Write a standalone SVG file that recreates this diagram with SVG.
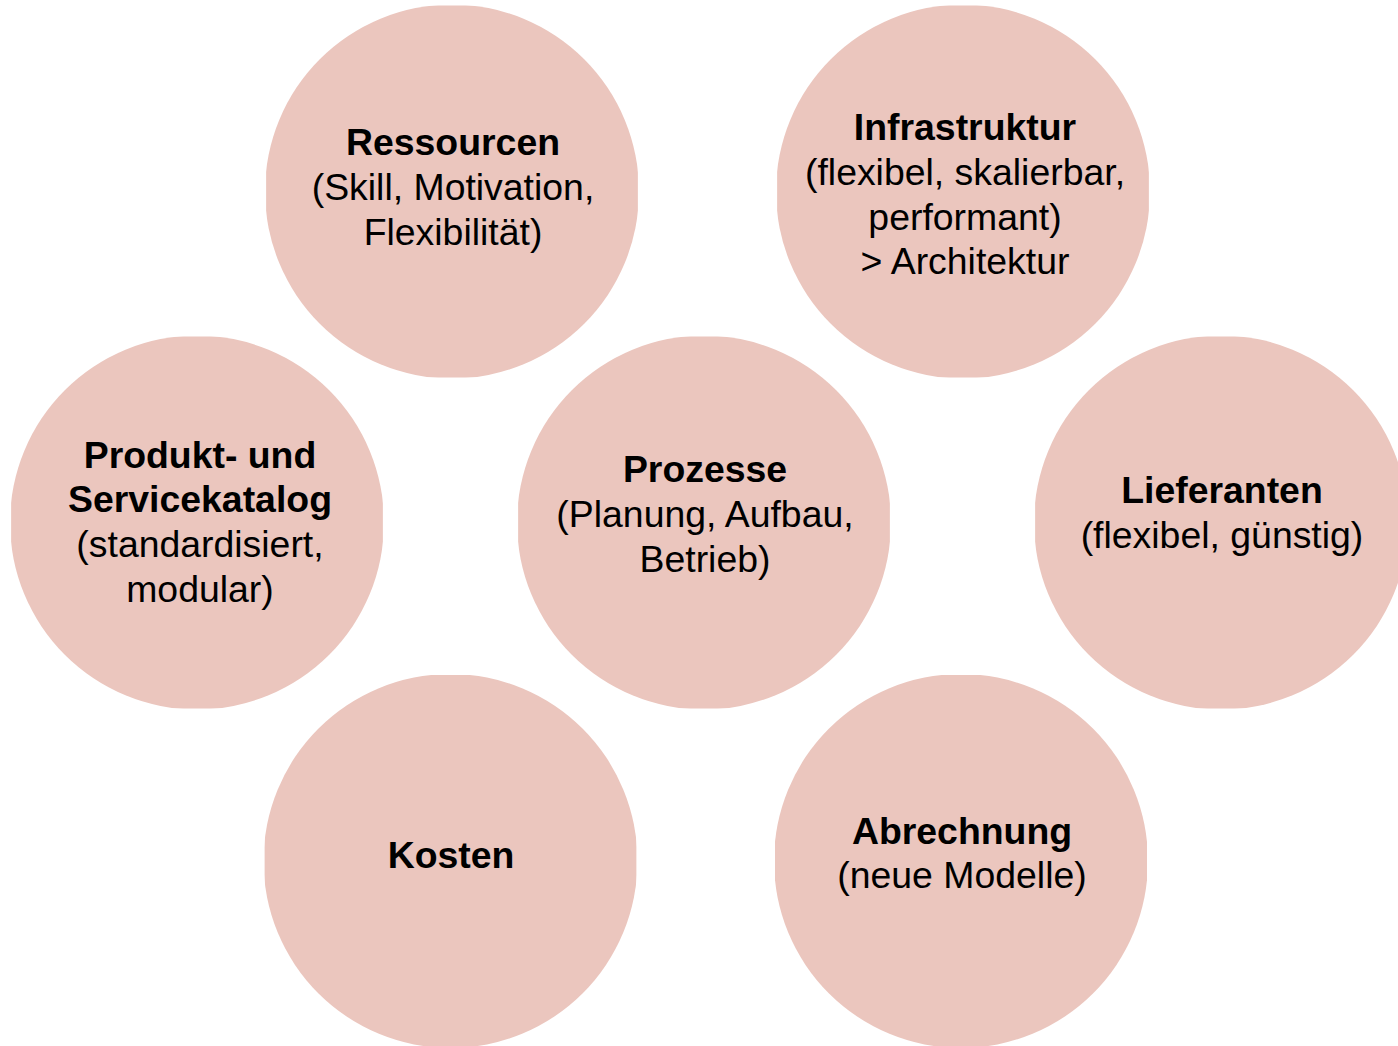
<svg xmlns="http://www.w3.org/2000/svg" width="1398" height="1046" viewBox="0 0 1398 1046">
<style>
.c{fill:#ebc6be}
text{font-family:"Liberation Sans",Arial,sans-serif;font-size:37.4px;fill:#000;text-anchor:middle}
.b{font-weight:bold}
</style>
<defs>
<clipPath id="clip" clipPathUnits="objectBoundingBox"><rect x="0.003" y="0.003" width="0.994" height="0.994"/></clipPath>
</defs>
<rect width="1398" height="1046" fill="#fff"/>
<g id="connectors"></g>
<g id="ressourcen">
<circle class="c" cx="452" cy="191.5" r="187" clip-path="url(#clip)"/>
<text x="453" y="155" class="b">Ressourcen</text>
<text x="453" y="200">(Skill, Motivation,</text>
<text x="453" y="245">Flexibilität)</text>
</g>
<g id="infrastruktur">
<circle class="c" cx="963" cy="191.5" r="187" clip-path="url(#clip)"/>
<text x="965" y="140" class="b">Infrastruktur</text>
<text x="965" y="185">(flexibel, skalierbar,</text>
<text x="965" y="230">performant)</text>
<text x="965" y="274">&gt; Architektur</text>
</g>
<g id="produkt">
<circle class="c" cx="197" cy="522.5" r="187" clip-path="url(#clip)"/>
<text x="200" y="468" class="b">Produkt- und</text>
<text x="200" y="512" class="b">Servicekatalog</text>
<text x="200" y="557">(standardisiert,</text>
<text x="200" y="602">modular)</text>
</g>
<g id="prozesse">
<circle class="c" cx="704" cy="522.5" r="187" clip-path="url(#clip)"/>
<text x="705" y="482" class="b">Prozesse</text>
<text x="705" y="527">(Planung, Aufbau,</text>
<text x="705" y="572">Betrieb)</text>
</g>
<g id="lieferanten">
<circle class="c" cx="1221" cy="522.5" r="187" clip-path="url(#clip)"/>
<text x="1222" y="503" class="b">Lieferanten</text>
<text x="1222" y="548">(flexibel, günstig)</text>
</g>
<g id="kosten">
<circle class="c" cx="450.5" cy="861" r="187" clip-path="url(#clip)"/>
<text x="451" y="868" class="b">Kosten</text>
</g>
<g id="abrechnung">
<circle class="c" cx="961" cy="861" r="187" clip-path="url(#clip)"/>
<text x="962" y="844" class="b">Abrechnung</text>
<text x="962" y="888">(neue Modelle)</text>
</g>
</svg>
